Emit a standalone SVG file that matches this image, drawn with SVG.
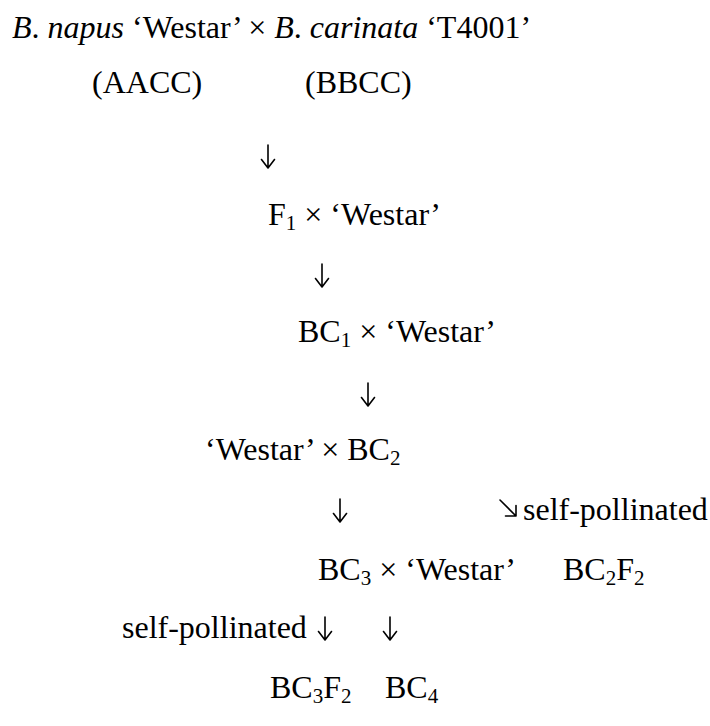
<svg xmlns="http://www.w3.org/2000/svg" width="710" height="726" viewBox="0 0 710 726">
<style>
text{font-family:'Liberation Serif','Times New Roman',serif;font-size:32px;fill:#000}
.i{font-style:italic}
.s{font-size:21px}
.arr{fill:none;stroke:#000;stroke-width:1.6;stroke-linecap:round;stroke-linejoin:round}
</style>
<rect width="710" height="726" fill="#fff"/>
<g id="cross1"><text x="12" y="38"><tspan class="i">B</tspan>. <tspan class="i">napus</tspan> ‘Westar’ × <tspan class="i">B</tspan>. <tspan class="i">carinata</tspan> ‘T4001’</text></g>
<g id="genomes"><text x="92" y="93">(AACC)</text><text x="305" y="93">(BBCC)</text></g>
<g id="f1"><text x="268" y="225">F<tspan class="s" dy="5">1</tspan><tspan dy="-5"> × ‘Westar’</tspan></text></g>
<g id="bc1"><text x="298" y="342">BC<tspan class="s" dy="5">1</tspan><tspan dy="-5"> × ‘Westar’</tspan></text></g>
<g id="bc2"><text x="205" y="460">‘Westar’ × BC<tspan class="s" dy="5">2</tspan></text></g>
<g id="bc3"><text x="318" y="580">BC<tspan class="s" dy="5">3</tspan><tspan dy="-5"> × ‘Westar’</tspan></text></g>
<g id="bc2f2"><text x="563" y="580">BC<tspan class="s" dy="5">2</tspan><tspan dy="-5">F</tspan><tspan class="s" dy="5">2</tspan></text></g>
<g id="bc3f2"><text x="270" y="698">BC<tspan class="s" dy="5">3</tspan><tspan dy="-5">F</tspan><tspan class="s" dy="5">2</tspan></text></g>
<g id="bc4"><text x="385" y="698">BC<tspan class="s" dy="5">4</tspan></text></g>
<g id="labels"><text x="523" y="520">self-pollinated</text><text x="122" y="638">self-pollinated</text></g>
<defs><path id="dn" d="M0,-23V0M-6.5,-8.5L0,0L6.5,-8.5"/></defs>
<g id="connectors" class="arr">
<use href="#dn" x="268" y="168"/>
<use href="#dn" x="322" y="287"/>
<use href="#dn" x="368" y="406"/>
<use href="#dn" x="340" y="522"/>
<use href="#dn" x="325" y="640"/>
<use href="#dn" x="390" y="640"/>
<path d="M500,500L516,516M505.5,516H516V505.5"/>
</g>
</svg>
